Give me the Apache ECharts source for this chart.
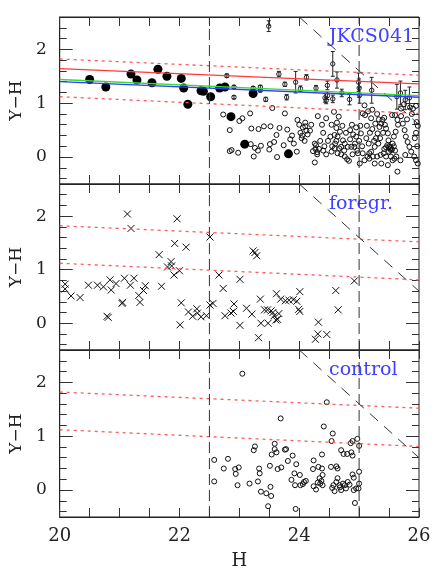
<!DOCTYPE html>
<html lang="en">
<head>
<meta charset="UTF-8">
<title>JKCS041 colour-magnitude</title>
<script src="https://cdn.jsdelivr.net/npm/echarts@6/dist/echarts.min.js"></script>
<style>
  html, body { margin: 0; padding: 0; background: #fff; }
  #main { width: 436px; height: 571px; }
</style>
</head>
<body>
<div id="main"></div>
<script type="text/javascript">
// axis ticks / labels
var xTicks = [20, 20.5, 21, 21.5, 22, 22.5, 23, 23.5, 24, 24.5, 25, 25.5, 26];
var xLabels = [20, 22, 24, 26];
var yMajor = [0, 1, 2];
var yMinor = [-0.4, -0.2, 0.2, 0.4, 0.6, 0.8, 1.2, 1.4, 1.6, 1.8, 2.2, 2.4];

// guide lines (H, Y-H)
var magLimits = [22.5, 25];
var colourCut = [[24, 2.6], [26, 0.6]];
var fitRed = [[20, 1.64], [26, 1.36]];
var fitGreen = [[20, 1.44], [26, 1.14]];
var fitBlue = [[20, 1.40], [26, 1.11]];
var bandUpper = [[20, 1.82], [26, 1.52]];
var bandLower = [[20, 1.12], [26, 0.81]];

// JKCS041 field: spectroscopic members (filled)
var members = [
  [20.50, 1.44], [20.77, 1.30], [21.19, 1.54], [21.29, 1.43], [21.54, 1.38],
  [21.64, 1.63], [21.79, 1.50], [22.03, 1.46], [22.07, 1.28], [22.14, 0.98],
  [22.36, 1.23], [22.40, 1.22], [22.52, 1.12], [22.67, 1.28], [22.76, 1.30],
  [23.23, 1.18], [22.86, 0.75], [23.09, 0.24], [23.82, 0.06]
];

// JKCS041 field: galaxies with error bars [H, Y-H, err]
var withErr = [
  [23.49, 2.43, 0.10], [22.79, 1.51, 0.03], [22.91, 1.30, 0.03], [22.91, 1.11, 0.03],
  [23.23, 1.28, 0.03], [23.35, 1.30, 0.03], [23.35, 1.24, 0.03], [23.44, 1.07, 0.04],
  [23.66, 1.54, 0.05], [23.76, 1.35, 0.04], [23.79, 1.11, 0.05], [23.94, 1.39, 0.20],
  [24.02, 1.27, 0.05], [24.12, 1.48, 0.05], [24.28, 1.28, 0.05], [24.43, 1.10, 0.08],
  [24.45, 1.05, 0.06], [24.47, 1.14, 0.07], [24.47, 1.33, 0.08], [24.56, 1.73, 0.23],
  [24.56, 1.08, 0.07], [24.63, 1.43, 0.15], [24.71, 1.19, 0.07], [24.84, 1.07, 0.10],
  [24.99, 1.39, 0.17], [25.00, 1.28, 0.17], [25.01, 1.15, 0.15], [25.21, 1.24, 0.24],
  [25.63, 1.12, 0.23], [25.69, 1.19, 0.22], [25.77, 1.06, 0.18], [25.84, 1.10, 0.20]
];

// JKCS041 field: other galaxies (open)
var field = [
  [22.73, 0.79], [22.84, 0.50], [22.84, 0.11], [22.87, 0.13], [22.98, 0.08], [23.00, 0.67],
  [23.05, 0.72], [23.18, 0.81], [23.20, 0.53], [23.24, 0.01], [23.19, 0.24], [23.26, 0.17],
  [23.31, 0.12], [23.36, 0.21], [23.32, 0.52], [23.41, 0.57], [23.51, 0.24], [23.50, 0.14],
  [23.52, 0.57], [23.55, 0.91], [23.58, 0.28], [23.62, 0.41], [23.63, 0.00], [23.67, 0.54],
  [23.76, 0.81], [23.80, 0.51], [23.88, 0.40], [23.91, 0.25], [23.96, 0.10], [23.97, 0.69],
  [23.85, 0.33], [23.74, 0.22],
  [24.00, 0.60], [24.02, 0.45], [24.05, 0.40], [24.06, 0.55], [24.04, 0.35], [24.10, 0.64],
  [24.10, 0.57], [24.12, 0.49], [24.14, 0.42], [24.09, 0.30], [24.18, 0.49], [24.26, 0.25],
  [24.28, 0.22], [24.27, 0.15], [24.23, 0.11], [24.30, 0.09], [24.26, -0.10], [24.31, 0.76],
  [24.35, 0.30], [24.40, 0.45], [24.42, 0.20], [24.45, 0.05], [24.38, 0.60], [24.33, 0.15],
  [24.20, 0.60], [24.45, 0.72], [24.30, 0.05], [24.40, 0.12], [24.48, 0.30],
  [24.54, 0.60], [24.63, 0.64], [24.52, 0.38], [24.58, 0.84], [24.66, 0.75], [24.62, 0.54],
  [24.54, 0.10], [24.59, 0.16], [24.67, 0.16], [24.70, 0.19], [24.64, 0.07], [24.76, 0.01],
  [24.80, -0.04], [24.83, -0.07], [24.89, 0.05], [24.92, 0.19], [24.95, 0.38], [25.03, 0.44],
  [25.06, 0.81], [25.09, 0.96], [25.10, 0.78], [25.13, 0.58], [25.16, 0.25], [25.17, 0.07],
  [25.20, 0.10], [25.26, 0.19], [25.28, 0.35], [25.31, 0.44], [25.34, 0.56], [25.37, 0.62],
  [25.39, 0.69], [25.42, 0.73], [25.45, 0.53], [25.48, 0.44], [25.49, 0.31], [25.52, 0.19],
  [25.53, 0.13], [25.56, 0.25], [25.58, 0.38], [25.61, 0.47], [25.64, 0.69], [25.70, 0.76],
  [25.73, 0.62], [25.76, 0.50], [25.78, 0.38], [25.81, 0.28], [25.84, 0.19], [25.87, 0.10],
  [25.92, 0.01], [25.95, -0.06], [25.98, -0.12], [25.77, 0.04], [25.69, -0.06], [25.62, 0.01],
  [25.56, -0.06], [25.48, -0.15], [25.37, -0.12], [25.26, -0.12], [25.17, -0.03], [25.09, -0.06],
  [25.01, -0.12], [25.64, -0.27], [25.59, -0.03], [25.53, 0.01], [25.45, 0.01], [25.41, 0.07],
  [25.36, 0.04], [25.30, 0.01], [25.23, 0.01], [25.14, 0.01], [25.06, 0.07], [24.98, 0.07],
  [24.87, 0.19], [24.81, 0.19], [24.76, 0.25], [24.73, 0.31], [24.64, 0.38], [24.59, 0.41],
  [25.45, 0.18], [25.50, 0.20], [25.52, 0.16], [25.47, 0.22], [25.55, 0.14], [25.58, 0.20],
  [25.42, 0.15], [25.60, 0.12], [25.50, 0.10],
  [25.95, 0.45], [25.97, 0.20], [25.93, 0.35], [25.98, 0.58], [25.96, 0.65], [25.90, 0.90],
  [25.95, 0.95], [25.88, 0.80], [25.85, 0.92], [25.75, 0.98], [25.70, 0.90], [25.60, 0.78],
  [25.55, 0.78], [25.65, 0.60], [25.80, 0.70],
  [24.55, 0.20], [24.60, 0.25], [24.62, 0.30], [24.70, 0.05], [24.75, 0.12], [24.78, 0.45],
  [24.85, 0.50], [24.88, 0.60], [24.90, 0.42], [24.93, 0.25], [24.97, 0.12], [25.00, 0.30],
  [25.02, 0.58], [24.72, 0.58], [24.68, 0.47], [24.85, 0.33], [24.95, 0.55], [25.05, 0.20],
  [25.12, 0.35], [25.18, 0.45], [25.22, 0.52], [25.25, 0.30], [25.32, 0.25], [25.35, 0.35],
  [25.40, 0.45], [25.43, 0.60], [25.33, 0.70], [25.27, 0.62], [25.20, 0.72], [25.15, 0.85],
  [25.22, 0.88], [25.30, 0.80]
];

// foreground sample (crosses)
var foreground = [
  [20.09, 0.73], [20.09, 0.64], [20.19, 0.51], [20.34, 0.48], [20.48, 0.71], [20.63, 0.71],
  [20.73, 0.68], [20.84, 0.81], [20.86, 0.62], [20.94, 0.74], [20.79, 0.13], [20.81, 0.11],
  [21.05, 0.39], [21.04, 0.37], [21.08, 0.84], [21.13, 2.04], [21.19, 1.77], [21.18, 0.71],
  [21.24, 0.84], [21.32, 0.52], [21.34, 0.39], [21.40, 0.61], [21.43, 0.70], [21.66, 1.28],
  [21.70, 0.69], [21.80, 1.05], [21.86, 1.15], [21.87, 1.07], [21.92, 1.49], [21.91, 0.90],
  [21.96, 1.95], [22.00, 0.98], [22.01, -0.03], [22.03, 0.38], [22.11, 1.42], [22.15, 0.21],
  [22.22, 0.13], [22.29, 0.27], [22.30, 0.19], [22.36, 0.12], [22.45, 0.14], [22.51, 1.61],
  [22.51, 0.34], [22.56, 0.37], [22.66, 0.90], [22.73, 0.65], [22.76, 0.14], [22.86, 0.19],
  [22.90, 0.22], [22.91, 0.36], [23.01, 0.82], [23.01, -0.04],
  [23.23, 1.35], [23.26, 1.32], [23.29, 1.26], [23.12, 0.28], [23.21, 0.17], [23.32, -0.27],
  [23.35, 0.45], [23.36, 0.00], [23.42, 0.25], [23.47, 0.25], [23.48, 0.00], [23.53, 0.23],
  [23.56, 0.20], [23.58, 0.14], [23.61, 0.06], [23.64, 0.07], [23.62, 0.55], [23.66, 0.18],
  [23.69, 0.45], [23.77, 0.42], [23.83, 0.43], [23.90, 0.44], [23.96, 0.41], [24.01, 0.59],
  [23.99, 0.26], [24.01, 0.22], [24.27, -0.30], [24.31, -0.20], [24.32, 0.02], [24.46, -0.21],
  [24.61, 0.61], [24.65, 0.25], [24.92, 0.79]
];

// control field (open circles)
var control = [
  [23.05, 2.16], [22.58, 0.56], [22.58, 0.16], [22.74, 0.40], [22.81, 0.58], [22.93, 0.39],
  [22.94, 0.30], [22.99, 0.42], [22.97, 0.09], [23.17, 0.12], [23.26, 0.81], [23.24, 0.74],
  [23.33, 0.40], [23.34, 0.31], [23.36, -0.03], [23.31, 0.16], [23.45, -0.06], [23.48, -0.30],
  [23.51, 0.45], [23.52, 0.06], [23.53, -0.11], [23.54, 0.66], [23.59, 0.86], [23.59, 0.76],
  [23.62, 0.70], [23.69, 1.33], [23.64, 0.39], [23.70, 0.42], [23.76, 0.75], [23.78, 0.76],
  [23.81, 0.54], [23.87, 0.19], [23.89, 0.64], [23.92, 0.31], [23.93, 0.09], [23.94, -0.35],
  [23.95, 0.48], [24.01, 0.28], [24.02, 0.09], [24.06, 0.11], [24.08, 0.15], [24.11, 0.17],
  [24.23, 0.39], [24.24, 0.55], [24.24, 0.07], [24.28, 0.01], [24.31, 0.14], [24.34, 0.22],
  [24.37, 0.17], [24.39, 0.28], [24.32, 0.43], [24.38, 0.40], [24.38, 0.66], [24.39, 0.09],
  [24.41, 1.18], [24.46, 1.63], [24.53, 0.43], [24.54, 0.91], [24.56, 1.05], [24.55, 0.04],
  [24.59, -0.02], [24.57, 0.09], [24.62, 0.44], [24.64, 0.40], [24.62, 0.15], [24.64, 0.22],
  [24.67, 0.09], [24.70, 0.74], [24.74, 0.67], [24.80, 0.67], [24.87, 0.70], [24.86, 0.87],
  [24.89, 0.91], [24.97, 0.95], [24.89, 0.64], [24.70, 0.00], [24.73, 0.12], [24.76, 0.09],
  [24.78, 0.03], [24.81, 0.15], [24.89, 0.29], [24.91, 0.23], [25.00, 0.34], [24.91, 0.00],
  [24.95, 0.03], [25.00, 0.12], [24.99, 0.03], [24.93, -0.24], [25.00, 0.82], [24.84, 0.10],
  [24.68, 0.05], [24.35, 0.12]
];

var serif = '"DejaVu Serif", "Liberation Serif", serif';
var gridTops = [17, 184, 350];
var gridHeights = [167, 166, 167];
var panelNames = ['JKCS041', 'foregr.', 'control'];

var myChart = echarts.init(document.getElementById('main'));

var grids = [], xAxes = [], yAxes = [], series = [], graphics = [];

function yAxisDef(g, pos, ticks, len, labels, withName) {
    return {
        type: 'value', gridIndex: g, position: pos, min: -0.5, max: 2.6,
        axisLine: {show: pos === 'left' && labels, onZero: false, lineStyle: {color: '#222', width: 1}},
        axisTick: {show: true, inside: true, length: len, customValues: ticks,
            lineStyle: {color: '#333', width: 1}},
        axisLabel: {show: labels, customValues: yMajor, margin: 13,
            color: '#222', fontFamily: serif, fontSize: 17},
        splitLine: {show: false},
        name: withName ? 'Y\u2212H' : '', nameLocation: 'middle', nameGap: 32, nameRotate: 90,
        nameTextStyle: {color: '#222', fontFamily: serif, fontSize: 17}
    };
}

function xAxisDef(g, pos, labels) {
    return {
        type: 'value', gridIndex: g, position: pos, min: 20, max: 26,
        axisLine: {show: true, onZero: false, lineStyle: {color: '#222'}},
        axisTick: {show: true, inside: true, length: 9, customValues: xTicks, lineStyle: {color: '#333'}},
        axisLabel: {show: labels, customValues: xLabels, margin: 10, color: '#222',
            fontFamily: serif, fontSize: 18},
        splitLine: {show: false},
        name: labels ? 'H' : '', nameLocation: 'middle', nameGap: 35,
        nameTextStyle: {color: '#222', fontFamily: serif, fontSize: 18}
    };
}

function lineSeries(g, data, color, width, dash) {
    return {
        type: 'line', xAxisIndex: 2 * g, yAxisIndex: 4 * g, data: data,
        symbol: 'none', silent: true, animation: false,
        lineStyle: {color: color, width: width, type: dash || 'solid'}
    };
}

for (var g = 0; g < 3; g++) {
    grids.push({left: 58, right: 17, top: gridTops[g], height: gridHeights[g],
        show: true, borderColor: '#222', borderWidth: 1, backgroundColor: 'transparent'});
    xAxes.push(xAxisDef(g, 'bottom', g === 2));
    xAxes.push(xAxisDef(g, 'top', false));
    yAxes.push(yAxisDef(g, 'left', yMajor, 13, true, true));
    yAxes.push(yAxisDef(g, 'left', yMinor, 7, false, false));
    yAxes.push(yAxisDef(g, 'right', yMajor, 13, false, false));
    yAxes.push(yAxisDef(g, 'right', yMinor, 7, false, false));

    // colour band around the red sequence
    series.push(lineSeries(g, bandUpper, '#ff5a5a', 1.3, [3, 4]));
    series.push(lineSeries(g, bandLower, '#ff5a5a', 1.3, [3, 4]));
    // magnitude limits and colour cut
    magLimits.forEach(function (m) {
        series.push(lineSeries(g, [[m, -0.5], [m, 2.6]], '#333', 1, [11, 5]));
    });
    series.push(lineSeries(g, colourCut, '#333', 1, [11, 8]));

    graphics.push({
        type: 'text', left: 329, top: gridTops[g] + 11, silent: true,
        style: {text: panelNames[g], fill: '#4040ff', font: '19px ' + serif}
    });
}

// fits in the cluster panel
series.push(lineSeries(0, fitRed, '#ff3a3a', 1.3));
series.push(lineSeries(0, fitGreen, '#33dd33', 1.3));
series.push(lineSeries(0, fitBlue, '#3a3aff', 1.3));

series.push({
    type: 'scatter', xAxisIndex: 0, yAxisIndex: 0, data: field, symbol: 'circle', symbolSize: 5,
    itemStyle: {color: 'rgba(0,0,0,0)', borderColor: '#111', borderWidth: 1, opacity: 1}, animation: false
});
series.push({
    type: 'custom', xAxisIndex: 0, yAxisIndex: 0, data: withErr, animation: false,
    renderItem: function (params, api) {
        var x = api.value(0), y = api.value(1), e = api.value(2);
        var c = api.coord([x, y]);
        var t = api.coord([x, y + e]);
        var b = api.coord([x, y - e]);
        var st = {stroke: '#222', lineWidth: 1, fill: 'none'};
        return {
            type: 'group', children: [
                {type: 'line', shape: {x1: c[0], y1: t[1], x2: c[0], y2: b[1]}, style: st},
                {type: 'line', shape: {x1: c[0] - 2, y1: t[1], x2: c[0] + 2, y2: t[1]}, style: st},
                {type: 'line', shape: {x1: c[0] - 2, y1: b[1], x2: c[0] + 2, y2: b[1]}, style: st},
                {type: 'circle', shape: {cx: c[0], cy: c[1], r: 2.2}, style: st}
            ]
        };
    }
});
series.push({
    type: 'scatter', xAxisIndex: 0, yAxisIndex: 0, data: members, symbol: 'circle', symbolSize: 9,
    itemStyle: {color: '#000', opacity: 1}, animation: false
});
series.push({
    type: 'scatter', xAxisIndex: 2, yAxisIndex: 4, data: foreground,
    symbol: 'path://M0,0L10,10M10,0L0,10', symbolSize: 7,
    itemStyle: {color: 'none', borderColor: '#111', borderWidth: 1, opacity: 1}, animation: false
});
series.push({
    type: 'scatter', xAxisIndex: 4, yAxisIndex: 8, data: control, symbol: 'circle', symbolSize: 5,
    itemStyle: {color: 'rgba(0,0,0,0)', borderColor: '#111', borderWidth: 1, opacity: 1}, animation: false
});

var option = {
    backgroundColor: '#fff',
    animation: false,
    grid: grids,
    xAxis: xAxes,
    yAxis: yAxes,
    series: series,
    graphic: graphics
};
myChart.setOption(option);
</script>
</body>
</html>
